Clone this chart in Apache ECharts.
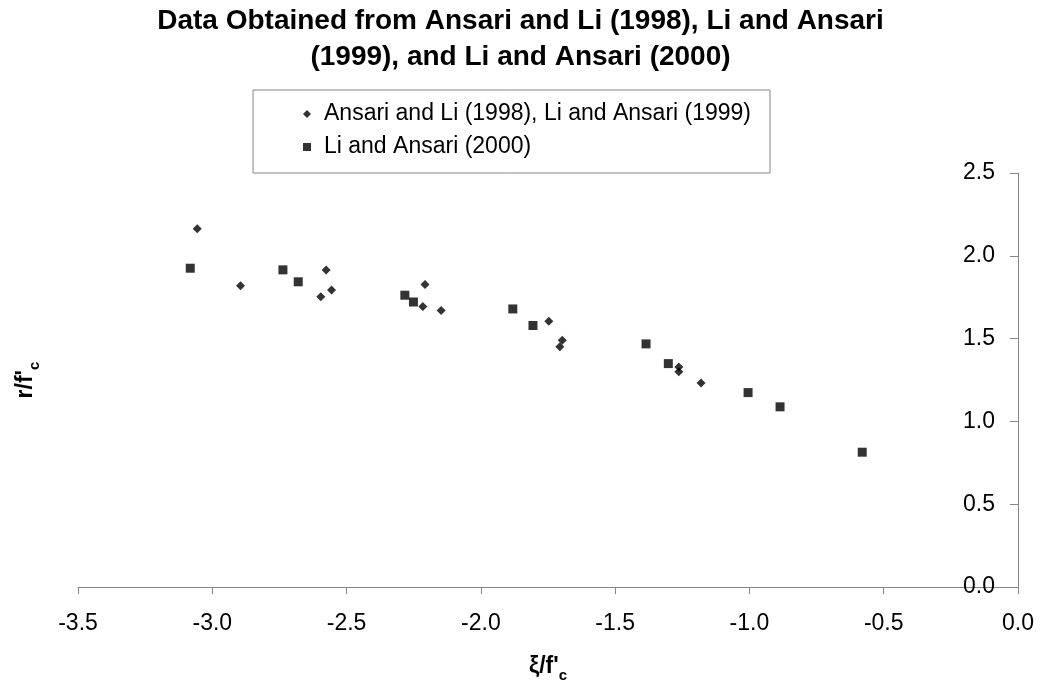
<!DOCTYPE html>
<html>
<head>
<meta charset="utf-8">
<title>r/f'c vs xi/f'c</title>
<script src="https://cdn.jsdelivr.net/npm/echarts@6.0.0/dist/echarts.min.js"></script>
<style>
    html,body{margin:0;padding:0;background:#fff;}
    #chart1{width:1041px;height:688px;}
</style>
</head>
<body>
<div id="chart1"></div>
<script>
var chart1;
// Ansari and Li (1998), Li and Ansari (1999) - diamonds
var diamondX=[-3.056,-2.895,-2.576,-2.556,-2.596,-2.208,-2.216,-2.148,-1.747,-1.697,-1.706,-1.263,-1.263,-1.180];
var diamondY=[2.163,1.819,1.915,1.793,1.753,1.826,1.694,1.670,1.605,1.490,1.451,1.329,1.300,1.232];
// Li and Ansari (2000) - squares
var squareX=[-3.082,-2.737,-2.680,-2.283,-2.251,-1.881,-1.806,-1.385,-1.302,-1.005,-0.886,-0.580];
var squareY=[1.925,1.915,1.843,1.762,1.721,1.679,1.579,1.468,1.349,1.174,1.088,0.814];
var seriesNames=['Ansari and Li (1998), Li and Ansari (1999)','Li and Ansari (2000)'];
var xTicks={min:-3.5,max:0,interval:0.5};
var yTicks={min:0,max:2.5,interval:0.5};

function pairs(xs,ys){
    var out=[];
    for(var i=0;i<xs.length;i++){
        out.push([xs[i],ys[i]]);
    }
    return out;
}

var FONT='"Liberation Sans", Arial, sans-serif';
var AXISCOLOR='#868686';
var nameRich={
    m:{fontFamily:FONT,fontSize:23,fontWeight:'bold',color:'#000',verticalAlign:'bottom',padding:[0,0,5,0]},
    s:{fontFamily:FONT,fontSize:15,fontWeight:'bold',color:'#000',verticalAlign:'bottom'}
};

chart1=echarts.init(document.getElementById('chart1'),null,{renderer:'canvas'});
var option={
    backgroundColor:'#fff',
    animation:false,
    title:{
        text:'Data Obtained from Ansari and Li (1998), Li and Ansari\n(1999), and Li and Ansari (2000)',
        left:'center',
        top:3,
        padding:0,
        textStyle:{
            fontFamily:FONT,
            fontSize:28,
            fontWeight:'bold',
            lineHeight:36,
            color:'#000'
        }
    },
    legend:{
        orient:'vertical',
        left:253,
        top:90,
        padding:[12,19,14,50],
        itemGap:9,
        itemWidth:8,
        itemHeight:8,
        borderColor:AXISCOLOR,
        borderWidth:1,
        textStyle:{
            fontFamily:FONT,
            fontSize:23,
            lineHeight:24,
            color:'#000',
            padding:[0,0,0,8]
        },
        data:seriesNames
    },
    grid:{
        left:78,
        right:23,
        top:173,
        bottom:101,
        outerBoundsMode:'none'
    },
    xAxis:{
        type:'value',
        min:xTicks.min,
        max:xTicks.max,
        interval:xTicks.interval,
        splitLine:{show:false},
        axisLine:{onZero:false,lineStyle:{color:AXISCOLOR,width:1}},
        axisTick:{length:7,lineStyle:{color:AXISCOLOR}},
        axisLabel:{
            margin:25,
            fontFamily:FONT,
            fontSize:23,
            color:'#000',
            formatter:function(v){return v.toFixed(1);}
        },
        name:'{m|ξ/f\'}{s|c}',
        nameLocation:'middle',
        nameGap:68,
        nameTextStyle:{rich:nameRich}
    },
    yAxis:[
        {   // left: only carries the axis title
            type:'value',
            position:'left',
            min:yTicks.min,
            max:yTicks.max,
            interval:yTicks.interval,
            splitLine:{show:false},
            axisLine:{show:false,onZero:false},
            axisTick:{show:false},
            axisLabel:{show:false},
            name:'{m|r/f\'}{s|c}',
            nameLocation:'middle',
            nameGap:36,
            nameTextStyle:{rich:nameRich}
        },
        {   // right: the drawn axis at x = 0, labels toward the plot
            type:'value',
            position:'right',
            min:yTicks.min,
            max:yTicks.max,
            interval:yTicks.interval,
            splitLine:{show:false},
            axisLine:{show:true,onZero:false,lineStyle:{color:AXISCOLOR,width:1}},
            axisTick:{inside:true,length:8,lineStyle:{color:AXISCOLOR}},
            axisLabel:{
                inside:true,
                margin:23,
                fontFamily:FONT,
                fontSize:23,
                color:'#000',
                formatter:function(v){return v.toFixed(1);}
            }
        }
    ],
    series:[
        {
            name:seriesNames[0],
            type:'scatter',
            symbol:'diamond',
            symbolSize:9,
            itemStyle:{color:'#000'},
            data:pairs(diamondX,diamondY)
        },
        {
            name:seriesNames[1],
            type:'scatter',
            symbol:'rect',
            symbolSize:9,
            itemStyle:{color:'#000'},
            data:pairs(squareX,squareY)
        }
    ]
};
chart1.setOption(option);
</script>
</body>
</html>
